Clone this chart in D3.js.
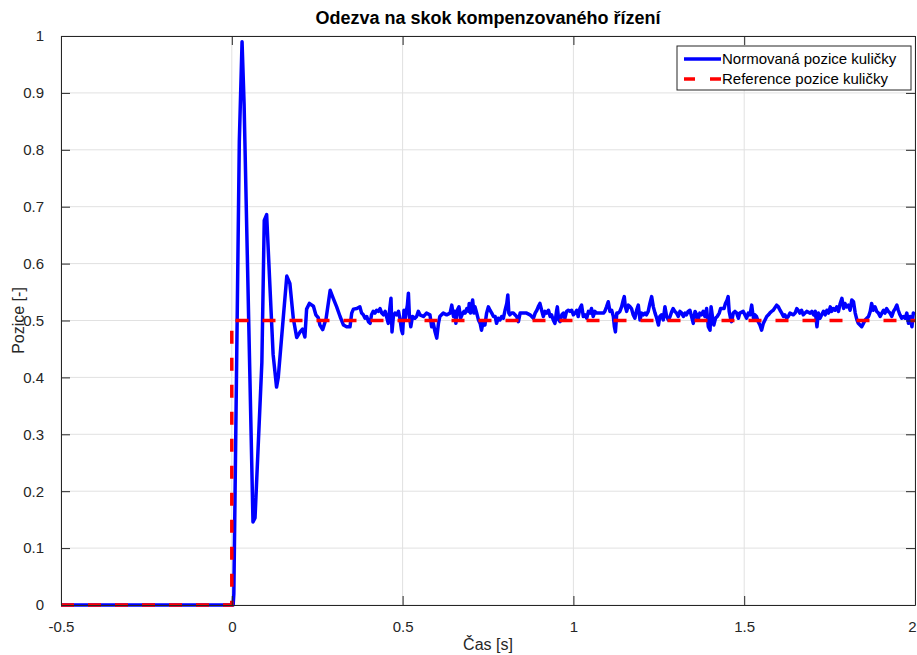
<!DOCTYPE html>
<html>
<head>
<meta charset="utf-8">
<script src="https://cdn.jsdelivr.net/npm/d3@7"></script>
<style>
  body { margin: 0; background: #fff; }
  svg { display: block; font-family: Arial, "Liberation Sans", sans-serif; }
</style>
</head>
<body>
<div id="chart"></div>
<script>

// Measured ball position (normalised) - time [s]
const ballTime = [
    -0.5, 0.0, 0.004, 0.006, 0.022, 0.030, 0.036, 0.062, 0.068, 0.088, 0.095, 0.102, 0.112,
    0.121, 0.131, 0.136, 0.150, 0.161, 0.170, 0.180, 0.190, 0.200, 0.207, 0.214, 0.219,
    0.227, 0.239, 0.246, 0.253, 0.258, 0.266, 0.276, 0.288,
    0.297, 0.307, 0.317, 0.327, 0.336, 0.346, 0.351, 0.356, 0.366, 0.375, 0.380, 0.385,
    0.390, 0.395, 0.400, 0.405, 0.409, 0.414, 0.419, 0.424, 0.429, 0.434, 0.439, 0.444,
    0.449, 0.453, 0.458, 0.463, 0.466, 0.469, 0.473, 0.478, 0.483, 0.488, 0.492, 0.497,
    0.500, 0.504, 0.507, 0.510, 0.514, 0.517, 0.520, 0.524, 0.529, 0.536, 0.541, 0.546,
    0.551, 0.561, 0.570, 0.580, 0.585, 0.590, 0.595, 0.600, 0.605, 0.609, 0.619, 0.629,
    0.639, 0.644, 0.649, 0.653, 0.656, 0.660, 0.665, 0.670, 0.676, 0.680, 0.683, 0.688,
    0.693, 0.695, 0.699, 0.702, 0.705, 0.709, 0.712, 0.717, 0.722, 0.727, 0.731, 0.736,
    0.741, 0.746, 0.751, 0.756, 0.761, 0.766, 0.771, 0.775, 0.780, 0.785, 0.790, 0.795,
    0.800, 0.805, 0.808, 0.811, 0.814, 0.819, 0.824, 0.834, 0.839, 0.844, 0.853, 0.863,
    0.873, 0.878, 0.883, 0.888, 0.893, 0.897, 0.902, 0.907, 0.912, 0.917, 0.922, 0.927,
    0.932, 0.936, 0.941, 0.946, 0.951, 0.953, 0.957, 0.961, 0.966, 0.971, 0.975, 0.980,
    0.985, 0.990, 0.995, 1.000, 1.005, 1.010, 1.014, 1.019, 1.024, 1.029, 1.034, 1.039,
    1.044, 1.049, 1.053, 1.058, 1.063, 1.068, 1.078, 1.088, 1.092, 1.097, 1.102, 1.107,
    1.112, 1.117, 1.120, 1.123, 1.127, 1.131, 1.136, 1.141, 1.146, 1.149, 1.152, 1.156,
    1.161, 1.166, 1.170, 1.175, 1.180, 1.185, 1.190, 1.195, 1.200, 1.205, 1.210, 1.214,
    1.219, 1.224, 1.229, 1.234, 1.239, 1.244, 1.249, 1.253, 1.258, 1.263, 1.268, 1.273,
    1.278, 1.283, 1.288, 1.292, 1.297, 1.302, 1.307, 1.312, 1.317, 1.322, 1.327, 1.331,
    1.336, 1.341, 1.346, 1.351, 1.356, 1.361, 1.365, 1.370, 1.375, 1.380, 1.385, 1.390,
    1.395, 1.400, 1.403, 1.407, 1.411, 1.416, 1.421, 1.427, 1.431, 1.441, 1.445, 1.450,
    1.453, 1.456, 1.460, 1.463, 1.468, 1.473, 1.478, 1.483, 1.487, 1.497, 1.502, 1.507,
    1.512, 1.517, 1.522, 1.525, 1.528, 1.531, 1.536, 1.541, 1.546, 1.551, 1.556, 1.561,
    1.566, 1.571, 1.575, 1.580, 1.585, 1.595, 1.600, 1.605, 1.610, 1.615, 1.619, 1.624,
    1.629, 1.634, 1.644, 1.649, 1.654, 1.658, 1.663, 1.668, 1.673, 1.678, 1.683, 1.693,
    1.698, 1.703, 1.708, 1.713, 1.717, 1.722, 1.727, 1.732, 1.737, 1.742, 1.747, 1.752,
    1.756, 1.761, 1.766, 1.771, 1.776, 1.781, 1.786, 1.791, 1.795, 1.800, 1.805, 1.810,
    1.815, 1.820, 1.825, 1.830, 1.834, 1.839, 1.844, 1.849, 1.854, 1.859, 1.864, 1.869,
    1.873, 1.878, 1.883, 1.888, 1.893, 1.898, 1.903, 1.908, 1.912, 1.917, 1.922, 1.927,
    1.932, 1.937, 1.942, 1.947, 1.951, 1.956, 1.961, 1.966, 1.971, 1.976, 1.981, 1.986,
    1.991, 1.995, 2.000
]

// Measured ball position (normalised) - value
const ballPos = [
    0, 0, 0, 0.02, 0.815, 0.99, 0.88, 0.146, 0.153, 0.426, 0.676, 0.686, 0.555,
    0.44, 0.383, 0.40, 0.50, 0.578, 0.565, 0.504, 0.470, 0.480, 0.485, 0.471, 0.520,
    0.530, 0.525, 0.510, 0.505, 0.492, 0.484, 0.503, 0.553,
    0.539, 0.524, 0.507, 0.492, 0.489, 0.489, 0.513, 0.520, 0.521, 0.524, 0.513, 0.510,
    0.504, 0.507, 0.498, 0.495, 0.510, 0.516, 0.513, 0.518, 0.516, 0.521, 0.513, 0.510,
    0.516, 0.507, 0.495, 0.524, 0.539, 0.480, 0.507, 0.513, 0.510, 0.516, 0.504, 0.483,
    0.477, 0.518, 0.501, 0.513, 0.527, 0.548, 0.507, 0.489, 0.507, 0.504, 0.507, 0.516,
    0.510, 0.507, 0.513, 0.510, 0.489, 0.495, 0.480, 0.469, 0.495, 0.507, 0.513, 0.510,
    0.513, 0.527, 0.507, 0.516, 0.495, 0.518, 0.524, 0.504, 0.513, 0.516, 0.513, 0.521,
    0.516, 0.530, 0.513, 0.527, 0.536, 0.513, 0.524, 0.513, 0.501, 0.495, 0.483, 0.498,
    0.492, 0.513, 0.524, 0.518, 0.513, 0.507, 0.507, 0.495, 0.504, 0.501, 0.507, 0.504,
    0.518, 0.530, 0.545, 0.513, 0.510, 0.513, 0.513, 0.507, 0.498, 0.513, 0.513, 0.513,
    0.510, 0.507, 0.504, 0.513, 0.518, 0.524, 0.530, 0.518, 0.507, 0.516, 0.513, 0.518,
    0.507, 0.510, 0.501, 0.495, 0.518, 0.524, 0.501, 0.498, 0.510, 0.513, 0.504, 0.516,
    0.518, 0.516, 0.518, 0.510, 0.513, 0.518, 0.507, 0.521, 0.527, 0.507, 0.510, 0.504,
    0.516, 0.513, 0.521, 0.507, 0.516, 0.513, 0.513, 0.513, 0.516, 0.524, 0.533, 0.516,
    0.518, 0.507, 0.489, 0.480, 0.513, 0.513, 0.516, 0.524, 0.536, 0.542, 0.524, 0.516,
    0.527, 0.524, 0.521, 0.510, 0.504, 0.518, 0.527, 0.501, 0.513, 0.510, 0.513, 0.510,
    0.516, 0.530, 0.542, 0.524, 0.513, 0.504, 0.492, 0.507, 0.510, 0.501, 0.524, 0.507,
    0.501, 0.507, 0.516, 0.521, 0.516, 0.513, 0.507, 0.516, 0.513, 0.507, 0.513, 0.510,
    0.516, 0.518, 0.507, 0.495, 0.516, 0.510, 0.501, 0.513, 0.510, 0.516, 0.507, 0.521,
    0.489, 0.483, 0.524, 0.507, 0.492, 0.504, 0.507, 0.513, 0.521, 0.521, 0.530, 0.536,
    0.542, 0.516, 0.504, 0.498, 0.513, 0.516, 0.513, 0.504, 0.513, 0.516, 0.510, 0.504,
    0.513, 0.510, 0.527, 0.513, 0.501, 0.510, 0.507, 0.498, 0.492, 0.483, 0.495, 0.501,
    0.507, 0.510, 0.513, 0.516, 0.518, 0.527, 0.524, 0.518, 0.513, 0.507, 0.510, 0.504,
    0.507, 0.513, 0.510, 0.513, 0.521, 0.518, 0.513, 0.518, 0.510, 0.513, 0.516, 0.513,
    0.516, 0.510, 0.516, 0.489, 0.513, 0.504, 0.510, 0.516, 0.510, 0.518, 0.513, 0.524,
    0.516, 0.521, 0.518, 0.524, 0.516, 0.530, 0.539, 0.521, 0.530, 0.524, 0.527, 0.518,
    0.536, 0.533, 0.513, 0.501, 0.495, 0.492, 0.489, 0.495, 0.501, 0.504, 0.507, 0.516,
    0.530, 0.518, 0.524, 0.516, 0.513, 0.507, 0.513, 0.518, 0.513, 0.521, 0.516, 0.513,
    0.507, 0.516, 0.521, 0.527, 0.518, 0.510, 0.504, 0.507, 0.504, 0.513, 0.495, 0.507,
    0.489, 0.513, 0.510
]

// Reference (step of 0.5 at t = 0)
const refTime = [-0.5, 0, 0, 2]
const refPos = [0, 0, 0.5, 0.5]

// Axis ticks and labels
const xTicks = [-0.5, 0, 0.5, 1, 1.5, 2]
const yTicks = [0, 0.1, 0.2, 0.3, 0.4, 0.5, 0.6, 0.7, 0.8, 0.9, 1]
const seriesNames = ['Normovaná pozice kuličky', 'Reference pozice kuličky']

// Sizes
const W = 917, H = 655
const margin = {top: 36, right: 2, bottom: 50, left: 61}
const iw = W - margin.left - margin.right
const ih = H - margin.top - margin.bottom
const axisColor = '#262626'

// plain hyphen instead of unicode minus, like MATLAB
const fmt = d => String(d)

var svg = d3.select('#chart')
    .append('svg')
    .attr('width', W)
    .attr('height', H)

var x = d3.scaleLinear().domain([-0.5, 2]).range([0, iw])
var y = d3.scaleLinear().domain([0, 1]).range([ih, 0])

var g = svg.append('g')
    .attr('transform', `translate(${margin.left},${margin.top})`)

// Grid
g.append('g')
    .selectAll('line')
    .data(xTicks)
    .enter()
    .append('line')
    .attr('x1', d => x(d)).attr('x2', d => x(d))
    .attr('y1', 0).attr('y2', ih)
    .attr('stroke', '#e1e1e1')
    .attr('stroke-width', 1)

g.append('g')
    .selectAll('line')
    .data(yTicks)
    .enter()
    .append('line')
    .attr('x1', 0).attr('x2', iw)
    .attr('y1', d => y(d)).attr('y2', d => y(d))
    .attr('stroke', '#e1e1e1')
    .attr('stroke-width', 1)

// Clip for the data lines
svg.append('defs').append('clipPath')
    .attr('id', 'plotclip')
    .append('rect')
    .attr('x', -2).attr('y', -2)
    .attr('width', iw + 4).attr('height', ih + 4)

var line = d3.line()
    .x(d => x(d[0]))
    .y(d => y(d[1]))

const ballData = ballTime.map((t, i) => [t, ballPos[i]])
const refData = refTime.map((t, i) => [t, refPos[i]])

var plot = g.append('g').attr('clip-path', 'url(#plotclip)')

plot.append('path')
    .datum(ballData)
    .attr('fill', 'none')
    .attr('stroke', '#0000ff')
    .attr('stroke-width', 3.5)
    .attr('stroke-linejoin', 'round')
    .attr('d', line)

plot.append('path')
    .datum(refData)
    .attr('fill', 'none')
    .attr('stroke', '#ff0000')
    .attr('stroke-width', 3.5)
    .attr('stroke-dasharray', '13,14')
    .attr('d', line)

// Axes (MATLAB style: ticks inside, box around)
var xAxis = d3.axisBottom(x).tickValues(xTicks).tickSizeInner(-9).tickSizeOuter(0)
    .tickPadding(16).tickFormat(fmt)
var yAxis = d3.axisLeft(y).tickValues(yTicks).tickSizeInner(-9).tickSizeOuter(0)
    .tickPadding(17).tickFormat(fmt)

var gx = g.append('g')
    .attr('transform', `translate(0,${ih})`)
    .call(xAxis)
var gy = g.append('g').call(yAxis)

// last x label sits on the window edge, keep it inside
gx.selectAll('.tick text').filter(d => d === 2).attr('dx', -3)

// top and right ticks
g.append('g').call(d3.axisTop(x).tickValues(xTicks).tickSizeInner(-9).tickSizeOuter(0).tickFormat(''))
g.append('g').attr('transform', `translate(${iw},0)`)
    .call(d3.axisRight(y).tickValues(yTicks).tickSizeInner(-9).tickSizeOuter(0).tickFormat(''))

g.selectAll('.domain').attr('stroke', axisColor)
g.selectAll('.tick line').attr('stroke', axisColor)
g.selectAll('.tick text')
    .attr('fill', axisColor)
    .style('font-size', '15px')
    .style('font-family', 'Arial, "Liberation Sans", sans-serif')

// Title and labels
svg.append('text')
    .attr('x', margin.left + iw / 2)
    .attr('y', 24)
    .attr('text-anchor', 'middle')
    .style('font-size', '18px')
    .style('font-weight', 'bold')
    .attr('fill', '#000')
    .text('Odezva na skok kompenzovaného řízení')

svg.append('text')
    .attr('x', margin.left + iw / 2)
    .attr('y', 650)
    .attr('text-anchor', 'middle')
    .style('font-size', '16px')
    .attr('fill', axisColor)
    .text('Čas [s]')

svg.append('text')
    .attr('transform', `translate(24,${margin.top + ih / 2}) rotate(-90)`)
    .attr('text-anchor', 'middle')
    .style('font-size', '16px')
    .attr('fill', axisColor)
    .text('Pozice [-]')

// Legend
var legend = svg.append('g').attr('transform', 'translate(677,46)')
legend.append('rect')
    .attr('width', 234).attr('height', 44)
    .attr('fill', '#fff')
    .attr('stroke', axisColor)
    .attr('stroke-width', 1)

const legendStyles = [
    {color: '#0000ff', dash: null},
    {color: '#ff0000', dash: '11,15'}
]

var items = legend.selectAll('.item')
    .data(seriesNames)
    .enter()
    .append('g')
    .attr('class', 'item')
    .attr('transform', (d, i) => `translate(0,${13 + i * 20})`)

items.append('line')
    .attr('x1', 7).attr('x2', 44)
    .attr('y1', 0).attr('y2', 0)
    .attr('stroke', (d, i) => legendStyles[i].color)
    .attr('stroke-width', 3.5)
    .attr('stroke-dasharray', (d, i) => legendStyles[i].dash)

items.append('text')
    .attr('x', 45)
    .attr('y', 5)
    .style('font-size', '15px')
    .attr('fill', '#000')
    .text(d => d)
</script>
</body>
</html>
